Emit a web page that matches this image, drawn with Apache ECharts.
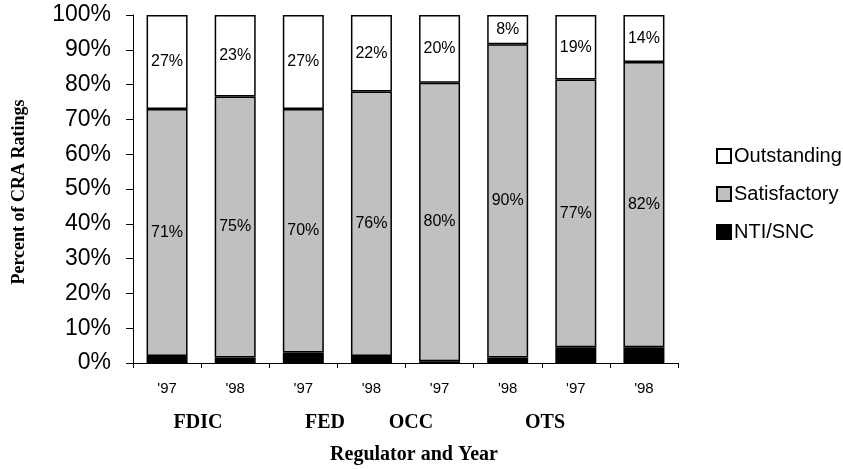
<!DOCTYPE html>
<html>
<head>
<meta charset="utf-8">
<script src="https://cdn.jsdelivr.net/npm/echarts@6/dist/echarts.min.js"></script>
<style>
  html, body { margin: 0; padding: 0; background: #fff; }
  #chart { width: 843px; height: 469px; }
</style>
</head>
<body>
<div id="chart"></div>
<script>
// CRA rating distribution by regulator and year (percent of ratings)
const years = ["'97", "'98", "'97", "'98", "'97", "'98", "'97", "'98"];
const regulators = ['FDIC', 'FED', 'OCC', 'OTS'];
const regulatorLabelX = [198, 325, 411, 545];
const ntiSnc = [2, 1.6, 3, 2, 0.5, 1.6, 4.5, 4.5];
const satisfactory = [71, 75, 70, 76, 80, 90, 77, 82];
const outstanding = [27, 23.4, 27, 22, 19.5, 8.4, 18.5, 13.5];
const yTicks = [0, 10, 20, 30, 40, 50, 60, 70, 80, 90, 100];

const sans = 'Liberation Sans, Arial, sans-serif';
const serif = 'Liberation Serif, Times New Roman, serif';

const segStyle = (fill) => ({ color: fill, borderColor: '#000', borderWidth: 1.5 });
const pctLabel = {
  show: true, position: 'inside', color: '#000',
  fontFamily: sans, fontSize: 16,
  formatter: (p) => Math.round(p.value) + '%'
};

const chart = echarts.init(document.getElementById('chart'), null, { renderer: 'canvas' });
chart.setOption({
  animation: false,
  backgroundColor: '#fff',
  grid: { left: 133, right: 165, top: 15, bottom: 106, containLabel: false },
  legend: {
    orient: 'vertical', left: 711, top: 141,
    itemWidth: 14, itemHeight: 14, itemGap: 18,
    icon: 'rect',
    textStyle: { fontFamily: sans, fontSize: 20, color: '#000', padding: [0, 0, 0, -2] },
    data: ['Outstanding', 'Satisfactory', 'NTI/SNC']
  },
  xAxis: {
    type: 'category', data: years, boundaryGap: true,
    axisLine: { lineStyle: { color: '#000', width: 1 } },
    axisTick: { show: true, interval: 0, length: 5, lineStyle: { color: '#000' } },
    axisLabel: { interval: 0, margin: 18, color: '#000', fontFamily: sans, fontSize: 15 }
  },
  yAxis: {
    type: 'value', min: 0, max: 100, interval: 10,
    splitLine: { show: false },
    axisLine: { show: true, lineStyle: { color: '#000', width: 1 } },
    axisTick: { show: true, length: 7, lineStyle: { color: '#000' } },
    axisLabel: {
      margin: 22, color: '#000', fontFamily: sans, fontSize: 23,
      customValues: yTicks,
      formatter: (v) => v + '%'
    }
  },
  series: [
    { name: 'NTI/SNC', type: 'bar', stack: 'cra', barWidth: 41,
      data: ntiSnc, itemStyle: segStyle('#000') },
    { name: 'Satisfactory', type: 'bar', stack: 'cra', barWidth: 41,
      data: satisfactory, itemStyle: segStyle('#c0c0c0'), label: pctLabel },
    { name: 'Outstanding', type: 'bar', stack: 'cra', barWidth: 41,
      data: outstanding, itemStyle: segStyle('#fff'), label: pctLabel }
  ],
  graphic: [
    ...regulators.map((r, i) => ({
      type: 'text', x: regulatorLabelX[i], y: 423,
      style: { text: r, fontFamily: serif, fontWeight: 'bold', fontSize: 20,
               fill: '#000', align: 'center', verticalAlign: 'middle' }
    })),
    { type: 'text', x: 414, y: 455,
      style: { text: 'Regulator and Year', fontFamily: serif, fontWeight: 'bold',
               fontSize: 20, fill: '#000', align: 'center', verticalAlign: 'middle' } },
    { type: 'text', x: 19, y: 192, rotation: Math.PI / 2,
      style: { text: 'Percent of CRA Ratings', fontFamily: serif, fontWeight: 'bold',
               fontSize: 18, fill: '#000', align: 'center', verticalAlign: 'middle' } }
  ]
});
</script>
</body>
</html>
